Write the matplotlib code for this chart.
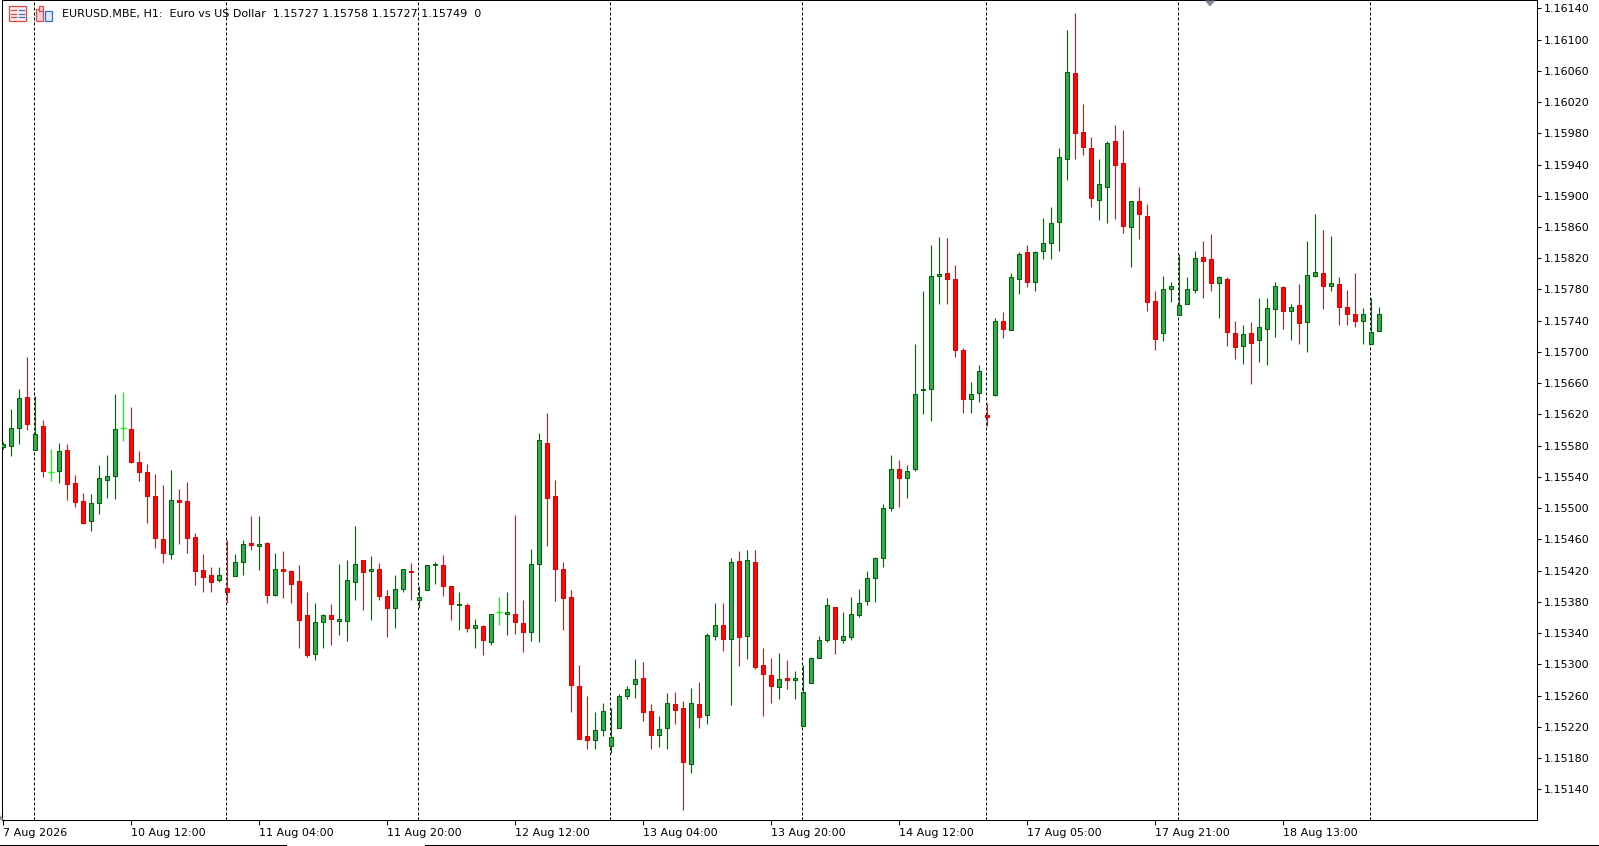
import numpy as np
import matplotlib
matplotlib.use("Agg")
import matplotlib.pyplot as plt
from matplotlib.patches import Polygon, Rectangle

# ---------------- data (prices in points, 1 point = 0.00001) ----------------
PRICE_SCALE = 1e5
symbol_title = "EURUSD.MBE, H1:  Euro vs US Dollar"

open_pts = [
    115578, 115580, 115602, 115642, 115575, 115605, 115546, 115547, 115574, 115532,
    115509, 115483, 115507, 115536, 115541, 115602, 115601, 115559, 115546, 115516,
    115461, 115441, 115511, 115509, 115463, 115421, 115414, 115408, 115398, 115413,
    115431, 115455, 115452, 115455, 115389, 115422, 115419, 115407, 115363, 115313,
    115354, 115363, 115356, 115356, 115406, 115433, 115420, 115422, 115387, 115372,
    115397, 115420, 115383, 115395, 115427, 115427, 115400, 115376, 115376, 115347,
    115349, 115328, 115367, 115365, 115364, 115353, 115342, 115429, 115583, 115515,
    115422, 115386, 115272, 115208, 115203, 115216, 115195, 115218, 115260, 115275,
    115282, 115240, 115209, 115218, 115249, 115244, 115173, 115249, 115235, 115336,
    115350, 115333, 115432, 115336, 115431, 115299, 115286, 115271, 115282, 115280,
    115221, 115276, 115308, 115331, 115374, 115331, 115335, 115363, 115381, 115410,
    115436, 115500, 115550, 115539, 115550, 115651, 115652, 115797, 115801, 115793,
    115702, 115640, 115648, 115619, 115645, 115739, 115728, 115793, 115828, 115789,
    115829, 115840, 115866, 115947, 116057, 115981, 115961, 115895, 115911, 115970,
    115942, 115860, 115893, 115874, 115765, 115724, 115781, 115747, 115761, 115779,
    115821, 115819, 115788, 115794, 115724, 115707, 115724, 115715, 115730, 115755,
    115783, 115752, 115760, 115738, 115797, 115801, 115784, 115787, 115757, 115749,
    115739, 115710, 115727]
high_pts = [
    115585, 115627, 115653, 115694, 115643, 115613, 115576, 115583, 115582, 115542,
    115520, 115518, 115555, 115568, 115646, 115649, 115629, 115573, 115556, 115544,
    115530, 115549, 115524, 115533, 115468, 115441, 115425, 115425, 115459, 115441,
    115459, 115490, 115490, 115457, 115443, 115445, 115421, 115427, 115393, 115379,
    115365, 115377, 115428, 115434, 115477, 115433, 115439, 115430, 115395, 115414,
    115422, 115430, 115400, 115427, 115431, 115440, 115400, 115393, 115379, 115358,
    115351, 115365, 115386, 115392, 115491, 115383, 115448, 115596, 115622, 115536,
    115431, 115395, 115299, 115260, 115239, 115251, 115244, 115262, 115272, 115307,
    115303, 115249, 115234, 115263, 115264, 115253, 115270, 115277, 115340, 115379,
    115379, 115436, 115445, 115446, 115446, 115321, 115308, 115314, 115306, 115291,
    115299, 115310, 115336, 115385, 115374, 115367, 115386, 115396, 115419, 115437,
    115505, 115568, 115562, 115555, 115710, 115778, 115837, 115847, 115846, 115811,
    115705, 115661, 115683, 115634, 115744, 115751, 115801, 115828, 115837, 115829,
    115872, 115885, 115961, 116112, 116134, 116017, 115975, 115947, 115970, 115990,
    115984, 115893, 115911, 115889, 115778, 115797, 115790, 115826, 115796, 115829,
    115842, 115851, 115797, 115796, 115740, 115735, 115738, 115769, 115769, 115790,
    115785, 115761, 115787, 115842, 115876, 115856, 115848, 115796, 115779, 115801,
    115756, 115769, 115758]
low_pts = [
    115576, 115567, 115582, 115600, 115575, 115540, 115535, 115532, 115510, 115501,
    115480, 115471, 115492, 115513, 115512, 115586, 115558, 115535, 115481, 115449,
    115430, 115435, 115454, 115443, 115402, 115392, 115393, 115406, 115378, 115413,
    115415, 115447, 115421, 115379, 115387, 115385, 115379, 115321, 115310, 115306,
    115321, 115325, 115338, 115330, 115383, 115370, 115357, 115383, 115335, 115347,
    115392, 115383, 115372, 115395, 115403, 115387, 115357, 115344, 115342, 115321,
    115312, 115325, 115351, 115337, 115339, 115316, 115330, 115328, 115451, 115381,
    115344, 115239, 115205, 115191, 115191, 115208, 115187, 115218, 115255, 115257,
    115227, 115191, 115194, 115192, 115224, 115114, 115161, 115218, 115224, 115331,
    115317, 115248, 115298, 115307, 115294, 115234, 115250, 115255, 115268, 115255,
    115221, 115276, 115308, 115328, 115313, 115327, 115331, 115360, 115376, 115380,
    115424, 115496, 115502, 115513, 115547, 115621, 115612, 115762, 115762, 115693,
    115622, 115622, 115636, 115605, 115644, 115718, 115728, 115774, 115783, 115778,
    115819, 115819, 115829, 115920, 115947, 115952, 115886, 115869, 115865, 115870,
    115852, 115809, 115844, 115753, 115702, 115714, 115764, 115747, 115761, 115775,
    115769, 115778, 115744, 115708, 115691, 115685, 115659, 115687, 115683, 115719,
    115730, 115715, 115710, 115700, 115796, 115755, 115778, 115735, 115734, 115732,
    115710, 115710, 115727]
close_pts = [
    115582, 115603, 115641, 115608, 115595, 115547, 115546, 115573, 115531, 115508,
    115481, 115506, 115539, 115541, 115601, 115602, 115559, 115546, 115516, 115462,
    115442, 115510, 115508, 115462, 115419, 115412, 115406, 115415, 115392, 115431,
    115454, 115453, 115454, 115389, 115422, 115420, 115403, 115357, 115312, 115354,
    115363, 115358, 115358, 115408, 115429, 115418, 115422, 115388, 115372, 115396,
    115422, 115418, 115386, 115427, 115428, 115400, 115377, 115377, 115346, 115350,
    115331, 115364, 115367, 115367, 115354, 115341, 115428, 115587, 115513, 115422,
    115385, 115273, 115205, 115203, 115216, 115240, 115207, 115259, 115269, 115281,
    115239, 115210, 115217, 115251, 115241, 115175, 115250, 115233, 115337, 115351,
    115332, 115431, 115335, 115433, 115297, 115287, 115272, 115281, 115280, 115283,
    115264, 115308, 115331, 115376, 115333, 115336, 115364, 115379, 115411, 115436,
    115500, 115550, 115538, 115548, 115646, 115653, 115797, 115800, 115794, 115703,
    115640, 115646, 115676, 115617, 115740, 115729, 115796, 115826, 115790, 115828,
    115839, 115865, 115949, 116058, 115980, 115962, 115897, 115915, 115968, 115939,
    115861, 115893, 115876, 115764, 115717, 115780, 115784, 115760, 115780, 115820,
    115817, 115788, 115796, 115725, 115706, 115723, 115712, 115732, 115756, 115784,
    115753, 115758, 115737, 115798, 115802, 115785, 115788, 115758, 115748, 115740,
    115748, 115726, 115749]

# time axis (bar index of each label) and day-separator bars
tick_bars = [0, 16, 32, 48, 64, 80, 96, 112, 128, 144, 160]
tick_labels = ["7 Aug 2026", "10 Aug 12:00", "11 Aug 04:00", "11 Aug 20:00",
               "12 Aug 12:00", "13 Aug 04:00", "13 Aug 20:00", "14 Aug 12:00",
               "17 Aug 05:00", "17 Aug 21:00", "18 Aug 13:00"]
day_start_bars = [4, 28, 52, 76, 100, 123, 147, 171]

price_ticks_pts = list(range(115140, 116141, 40))

# ---------------- figure ----------------
W, H = 1599, 846
fig = plt.figure(figsize=(W / 100, H / 100), dpi=100)
fig.patch.set_facecolor("white")

def fx(px):
    return px / W

def fy(py):
    return 1 - py / H

FS = 8.0

ax_left, ax_right, ax_top, ax_bottom = 2.3, 1537.3, 0.5, 820.0
ax = fig.add_axes([fx(ax_left), fy(ax_bottom), (ax_right - ax_left) / W,
                   (ax_bottom - ax_top) / H])
ax.set_facecolor("white")

O = np.array(open_pts) / PRICE_SCALE
Hh = np.array(high_pts) / PRICE_SCALE
Lo = np.array(low_pts) / PRICE_SCALE
C = np.array(close_pts) / PRICE_SCALE
x = np.arange(len(O))

up = C > O
dn = C < O
dj = C == O

green_fill = "#33a852"
green_edge = "#006400"
red_fill = "#f20c0c"
red_edge = "#e00000"
red_wick = "#c81e1e"
lime = "#00ff00"

# day separators
for b in day_start_bars:
    ax.axvline(b - 0.125, color="black", lw=0.72, dashes=(3, 2), zorder=1)

# wicks
ax.vlines(x[up], Lo[up], Hh[up], colors=green_edge, lw=0.8, zorder=2)
ax.vlines(x[dn], Lo[dn], Hh[dn], colors=red_wick, lw=0.8, zorder=2)
ax.vlines(x[dj], Lo[dj], Hh[dj], colors=lime, lw=0.8, zorder=2)

# bodies
bw = 0.5
ax.bar(x[up], (C - O)[up], bottom=O[up], width=bw, color=green_fill,
       edgecolor=green_edge, linewidth=0.75, zorder=3)
ax.bar(x[dn], (O - C)[dn], bottom=C[dn], width=bw, color=red_fill,
       edgecolor=red_edge, linewidth=0.75, zorder=3)
ax.hlines(O[dj], x[dj] - 0.36, x[dj] + 0.36, colors=lime, lw=1.0, zorder=3)

# scales
px_per_bar = 8.0
bar0_px = 3.3
ax.set_xlim((ax_left - bar0_px) / px_per_bar, (ax_right - bar0_px) / px_per_bar)
px_per_price = 78100.0
p_ref, y_ref = 1.16140, 8.3
ax.set_ylim(p_ref - (ax_bottom - y_ref) / px_per_price,
            p_ref + (y_ref - ax_top) / px_per_price)

for s in ax.spines.values():
    s.set_color("black")
    s.set_linewidth(0.75)

ax.yaxis.tick_right()
ax.set_yticks(np.array(price_ticks_pts) / PRICE_SCALE)
ax.set_yticklabels([f"{p / PRICE_SCALE:.5f}" for p in price_ticks_pts])
ax.tick_params(axis="y", direction="out", length=3, width=0.75, pad=1.5,
               labelsize=FS, colors="black", left=False, right=True)

ax.set_xticks(tick_bars)
ax.set_xticklabels(tick_labels, ha="left")
ax.set_xticks([b - 0.125 for b in day_start_bars], minor=True)
ax.tick_params(axis="x", which="major", direction="out", length=3.5, width=0.75,
               pad=2.0, labelsize=FS, colors="black")
ax.tick_params(axis="x", which="minor", direction="in", length=2.5, width=0.75)

# header
hdr = (f"{symbol_title}  {O[-1]:.5f} {Hh[-1]:.5f} {Lo[-1]:.5f} {C[-1]:.5f}  0")
fig.text(fx(62.5), fy(14), hdr, fontsize=FS, color="black",
         ha="left", va="center", family="DejaVu Sans")

# header icons
def fig_rect(x0, y0, w, h, **kw):
    r = Rectangle((fx(x0), fy(y0 + h)), w / W, h / H,
                  transform=fig.transFigure, **kw)
    fig.add_artist(r)

fig_rect(8.5, 6.5, 17.5, 15, facecolor="#fff0f0", edgecolor="#e04848", lw=0.9)
for yy in (10.5, 14, 17.5):
    fig.add_artist(plt.Line2D([fx(10.5), fx(16)], [fy(yy), fy(yy)],
                              transform=fig.transFigure, color="#e04848", lw=0.9))
    fig.add_artist(plt.Line2D([fx(18.5), fx(24)], [fy(yy), fy(yy)],
                              transform=fig.transFigure, color="#2f6fd0", lw=0.9))
fig_rect(35.5, 9, 7, 12.5, facecolor="#fbd3d3", edgecolor="#e04848", lw=0.9)
fig_rect(39, 6, 4, 5, facecolor="#fbd3d3", edgecolor="#e04848", lw=0.9)
fig_rect(45, 11, 7, 10.5, facecolor="#dbe9fb", edgecolor="#2f6fd0", lw=0.9)

# chart-shift marker at top and small marker at bottom-left
fig.add_artist(Polygon([(fx(1204.7), fy(0.5)), (fx(1215.3), fy(0.5)),
                        (fx(1210), fy(6.5))], closed=True,
                       transform=fig.transFigure, facecolor="#7f8a99",
                       edgecolor="none"))
fig.add_artist(Polygon([(fx(0), fy(815)), (fx(0), fy(820)), (fx(4), fy(820))],
                       closed=True, transform=fig.transFigure,
                       facecolor="#8a96a6", edgecolor="none"))

# bottom tab bar outlines
for xa, xb in ((0, 286), (425, W)):
    fig.add_artist(plt.Line2D([fx(xa), fx(xb)], [fy(844.5), fy(844.5)],
                              transform=fig.transFigure, color="black", lw=0.75))

fig.savefig("out.png", dpi=100, facecolor="white")
